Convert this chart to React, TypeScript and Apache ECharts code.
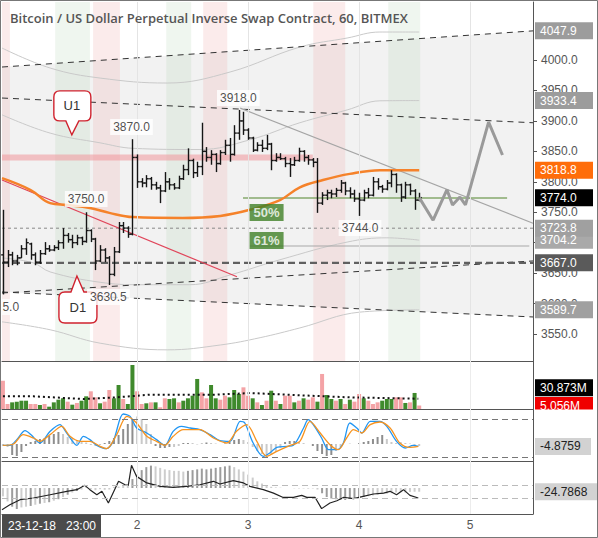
import React, { useEffect, useRef } from 'react';
import * as echarts from 'echarts';

const TITLE = 'Bitcoin / US Dollar Perpetual Inverse Swap Contract, 60, BITMEX';
const FIRST_HOUR = -5; // hour of first bar, counted from start of day "1"
const X_MIN = -5.2;
const X_MAX = 109.6;
const DAY_TICKS = [24, 48, 72, 96];
const PRICE_TICKS = [3550, 3600, 3650, 3700, 3750, 3800, 3850, 3900, 3950, 4000];

const opens = [
  3680, 3668, 3680, 3670, 3675, 3690, 3698, 3680, 3668, 3682,
  3690, 3688, 3692, 3700, 3712, 3705, 3700, 3708, 3702, 3720,
  3706, 3670, 3688, 3675, 3648, 3685, 3728, 3724, 3714, 3840,
  3800, 3798, 3805, 3795, 3790, 3785, 3800, 3795, 3790, 3805,
  3820, 3835, 3815, 3825, 3850, 3840, 3845, 3830, 3848, 3860,
  3845, 3880, 3900, 3885, 3872, 3852, 3860, 3855, 3862, 3835,
  3840, 3838, 3830, 3828, 3835, 3850, 3840, 3836, 3832, 3765,
  3778, 3782, 3780, 3786, 3798, 3785, 3780, 3772, 3770, 3782,
  3778, 3800, 3792, 3788, 3798, 3812, 3795, 3775, 3795, 3785,
  3770,
];
const highs = [
  3754, 3688, 3685, 3680, 3696, 3707, 3700, 3684, 3688, 3701,
  3696, 3696, 3704, 3724, 3716, 3713, 3713, 3710, 3750, 3722,
  3708, 3696, 3691, 3678, 3693, 3734, 3734, 3727, 3870, 3845,
  3806, 3811, 3808, 3800, 3795, 3816, 3806, 3798, 3810, 3828,
  3855, 3838, 3833, 3897, 3857, 3852, 3847, 3852, 3869, 3872,
  3893, 3918, 3915, 3888, 3874, 3865, 3869, 3877, 3864, 3847,
  3847, 3841, 3839, 3841, 3856, 3852, 3844, 3839, 3839, 3783,
  3787, 3787, 3790, 3803, 3800, 3791, 3787, 3782, 3787, 3790,
  3808, 3806, 3795, 3803, 3819, 3814, 3797, 3800, 3797, 3788,
  3782,
];
const lows = [
  3615, 3660, 3663, 3663, 3675, 3680, 3672, 3663, 3665, 3680,
  3685, 3686, 3688, 3690, 3700, 3691, 3696, 3696, 3700, 3701,
  3655, 3668, 3668, 3630.5, 3645, 3683, 3716, 3708, 3712, 3790,
  3791, 3791, 3787, 3787, 3765, 3783, 3787, 3787, 3788, 3803,
  3811, 3806, 3808, 3811, 3833, 3828, 3816, 3828, 3844, 3833,
  3843, 3869, 3877, 3869, 3849, 3850, 3849, 3852, 3819, 3833,
  3836, 3824, 3808, 3826, 3833, 3833, 3828, 3824, 3749, 3762,
  3770, 3773, 3775, 3782, 3778, 3773, 3767, 3744, 3768, 3773,
  3776, 3787, 3782, 3786, 3791, 3782, 3767, 3772, 3778, 3754,
  3768,
];
const closes = [
  3668, 3680, 3670, 3675, 3690, 3700, 3680, 3668, 3682, 3690,
  3688, 3692, 3700, 3712, 3705, 3700, 3708, 3702, 3720, 3706,
  3670, 3688, 3675, 3648, 3685, 3728, 3724, 3714, 3840, 3800,
  3798, 3805, 3795, 3790, 3785, 3800, 3795, 3790, 3805, 3820,
  3835, 3815, 3825, 3850, 3840, 3845, 3830, 3848, 3860, 3845,
  3880, 3900, 3885, 3872, 3852, 3860, 3855, 3862, 3835, 3840,
  3838, 3830, 3828, 3835, 3850, 3840, 3836, 3832, 3765, 3778,
  3782, 3780, 3786, 3798, 3785, 3780, 3772, 3770, 3782, 3778,
  3800, 3792, 3788, 3798, 3812, 3795, 3775, 3795, 3785, 3770,
  3774,
];

// volume in millions, 1 = green (up) bar, 0 = pink (down) bar
const volumes = [
  41.3, 7.3, 9.7, 10.7, 12.1, 12.1, 7.3, 7.3, 5.8, 7.3,
  3.4, 9.7, 13.6, 15.6, 10.7, 6.3, 8.8, 12.1, 18.5, 25.8,
  17.0, 8.3, 10.7, 27.7, 15.6, 35.0, 14.6, 7.3, 64.2, 25.8,
  7.3, 8.3, 9.7, 9.7, 2.5, 15.6, 14.6, 15.6, 9.7, 12.1,
  15.6, 19.4, 43.8, 24.3, 15.6, 35.0, 15.6, 13.6, 19.4, 17.0,
  27.7, 21.9, 31.6, 19.4, 15.6, 9.7, 5.8, 12.1, 26.7, 12.1,
  7.3, 19.4, 19.4, 9.7, 12.1, 15.6, 13.6, 17.0, 10.7, 51.1,
  20.4, 14.6, 12.1, 14.6, 7.3, 13.6, 10.7, 21.9, 15.6, 12.1,
  7.3, 9.7, 12.1, 14.6, 14.6, 17.0, 17.0, 8.8, 9.7, 23.4,
  5.056,
];
const volumeUp = [
  0, 0, 1, 1, 1, 1, 0, 0, 1, 0,
  1, 1, 1, 1, 0, 1, 0, 1, 1, 0,
  0, 1, 0, 0, 1, 1, 0, 1, 1, 0,
  0, 1, 0, 1, 0, 0, 1, 1, 0, 1,
  1, 1, 1, 0, 0, 1, 1, 0, 0, 1,
  1, 1, 0, 0, 1, 0, 1, 0, 1, 0,
  1, 0, 0, 1, 0, 1, 0, 0, 1, 0,
  1, 1, 0, 1, 0, 1, 0, 0, 1, 0,
  0, 0, 1, 1, 1, 0, 0, 1, 0, 1,
  0,
];
const volumeMa = [[-5, 18.5], [1.6, 18.5], [12.4, 14.6], [19.6, 17], [26.8, 20.9], [41.2, 20.9], [48.4, 23.3], [59.2, 20], [70, 17], [84.8, 15]];

// oscillator pane
const oscHist = [
  -4, -6, -22, -24, -16, -4, 4, 6, 10, 12,
  16, 20, 24, 20, 14, 12, 8, 6, 3, -2,
  -4, -2, 2, 6, 12, 18, 30, 40, 50, 55,
  50, 40, 20, -4, -8, -8, -6, -6, -4, 2,
  2, 2, -1, 1, 3, 2, 1, 0, 1, 4,
  8, 10, 8, 4, -6, -14, -20, -24, -22, -16,
  -8, 4, 6, 6, 4, 2, 0, -4, -14, -20,
  -24, -22, -14, -6, 0, 1, 0, 2, 4, 6,
  10, 14, 18, 10, 4, 2, 4, 2, 1, -2,
  -4,
];
const oscHistDark = [
  0, 0, 1, 1, 1, 1, 1, 1, 1, 1,
  1, 1, 1, 0, 0, 0, 0, 0, 0, 0,
  0, 0, 1, 1, 1, 1, 1, 1, 1, 0,
  0, 0, 0, 1, 1, 1, 1, 0, 0, 1,
  1, 0, 0, 1, 1, 0, 0, 0, 1, 1,
  1, 1, 0, 0, 0, 0, 0, 0, 0, 0,
  0, 1, 1, 1, 0, 0, 0, 1, 1, 1,
  1, 1, 0, 0, 0, 0, 0, 1, 1, 1,
  1, 1, 1, 0, 0, 0, 0, 0, 0, 0,
  0,
];
const oscFast = [[-5, -2.7], [-3.5, -2.7], [-2, 8.7], [-0.2, 26.7], [1.2, 17.3], [3, 2], [5.2, 25.3], [7.3, 38.7], [8.8, 22], [11, -2.7], [12.4, 15.3], [13.8, 8.7], [15.3, -2.7], [17.4, -9.3], [18.9, 6.7], [21, 60], [22.5, 55.3], [23.9, 32], [26.1, 22], [28.2, 8.7], [30, -2.7], [31.8, 25.3], [33.6, 35.3], [35.5, 32], [37.6, 28.7], [39.8, 18.7], [41.9, 6.7], [44.1, 5.3], [46.3, 45.3], [47.3, 42], [49.1, 2], [51.3, -24.7], [52.7, -18], [54.2, -6.7], [56.4, -4.7], [57.8, -2.7], [60, 32], [61, 48.7], [62.1, 38.7], [63.9, 12], [65.4, -11.3], [67.2, -11.3], [68.6, 2], [70, 42], [71.5, 32], [72.6, 22], [74.4, 45.3], [76.5, 45.3], [78, 35.3], [80.1, 5.3], [82, -8], [83.7, -2.7], [84.8, -4.9]];
const oscSlow = [[-5, -2.7], [-2.7, 0], [-0.6, 18.7], [1.6, 12], [3, 5.3], [5.2, 18.7], [7.7, 35.3], [9.5, 15.3], [11.7, 5.3], [13.8, 5.3], [16, -4.7], [17.4, -9.3], [19.6, 18.7], [21.8, 55.3], [23.9, 42], [26.1, 15.3], [28.2, 5.3], [30, -2.7], [31.8, 15.3], [34, 28.7], [37.6, 28.7], [40.5, 12], [43.4, 2], [45.5, 25.3], [47.7, 38.7], [49.9, 5.3], [52, -24.7], [54.2, -14.7], [57.1, -2.7], [59.2, 5.3], [61.4, 45.3], [63.6, 22], [65.7, -1.3], [67.5, -11.3], [69.3, 12], [70.8, 28.7], [72.6, 22], [74.4, 38.7], [76.5, 44], [78.7, 32], [80.8, 2], [83, -6.7], [84.8, -4.9]];

// MACD pane
const macdHist = [
  -56, -90, -125, -140, -130, -125, -120, -112, -105, -100,
  -95, -85, -75, -60, -45, -30, -20, -10, 5, -10,
  -15, -8, -12, -10, 8, 10, 15, 20, 60, 90,
  120, 140, 150, 145, 135, 125, 120, 115, 115, 110,
  115, 120, 125, 130, 125, 130, 135, 140, 145, 150,
  140, 125, 110, 90, 70, 45, 30, 15, 8, 4,
  2, 0, 0, -2, -3, -3, -4, -3, -10, -35,
  -60, -70, -75, -78, -80, -72, -70, -68, -60, -55,
  -50, -45, -40, -38, -35, -30, -28, -30, -26, -25,
  -24.8,
];
const macdHistDark = [
  0, 0, 1, 1, 0, 0, 1, 0, 1, 0,
  1, 0, 1, 0, 1, 0, 1, 0, 0, 0,
  0, 0, 0, 0, 0, 0, 0, 0, 1, 1,
  1, 1, 1, 0, 0, 0, 0, 0, 0, 0,
  1, 1, 1, 1, 1, 1, 1, 1, 1, 1,
  0, 0, 0, 0, 0, 0, 0, 0, 0, 0,
  0, 0, 0, 0, 0, 0, 0, 0, 0, 1,
  1, 1, 1, 1, 1, 1, 1, 1, 1, 0,
  0, 0, 0, 0, 0, 0, 0, 0, 0, 0,
  0,
];
const macdLine = [[-5.2, -145], [-3.5, -112], [-1.3, -78], [1.6, -67], [5.2, -45], [8.8, -22], [11, -11], [12.7, 18], [13.8, -11], [15.3, -45], [16.4, -22], [17.8, -100], [20, 45], [21.4, 22], [22.1, 18], [22.8, 152], [23.9, 78], [26.1, 34], [29, 11], [31.8, 4], [34.7, 11], [37.6, 22], [40.5, 45], [41.9, 27], [44.8, 49], [47, 34], [48.4, 11], [51.3, -11], [53.5, -34], [55.6, -63], [57.8, -63], [59.6, -49], [60.7, -63], [62.5, -63], [63.9, -138], [65.7, -100], [67.2, -85], [68.6, -63], [70.8, -71], [72.9, -56], [75.1, -40], [77.3, -34], [78.7, -22], [80.1, -45], [81.6, -11], [83, -49], [84.8, -67]];

// indicator lines on the price pane
const emaLine = [[-5.2, 3806], [1, 3786.5], [5.2, 3765], [8.9, 3762], [13.8, 3757], [18, 3749], [23.1, 3742], [33.9, 3740.5], [42, 3744], [48.4, 3754], [54.9, 3770], [59.2, 3791], [64.2, 3803], [70, 3813], [76.5, 3819], [85, 3818.8]];
const bandOuterUpper = [[-5.2, 4019.7], [5.2, 3986.9], [16, 3970.4], [30.5, 3962.2], [44.1, 3980.3], [59.2, 4021.3], [69.4, 4036.1], [76.5, 4046], [85, 4046]];
const bandInnerUpper = [[-5.2, 3910], [5.2, 3880], [16, 3864], [23.1, 3855], [37.6, 3853], [48.4, 3869], [59.2, 3897], [69.4, 3918], [76.5, 3933], [85, 3933.4]];
const bandInnerLower = [[-5.2, 3675], [1.5, 3667], [5.2, 3652], [16, 3635], [24.6, 3631], [35.4, 3631], [44.1, 3647], [54.9, 3672], [69.4, 3701], [78, 3708], [85, 3704.2]];
const bandOuterLower = [[-5.2, 3570], [5.2, 3557], [16, 3535], [30.5, 3524], [42, 3532], [50.6, 3544], [59.2, 3560], [72.2, 3586], [85, 3589.7]];

// drawings
const channelTop = [[-5.2, 3988.5], [109.6, 4047.9]];
const channelUpperMid = [[-5.2, 3937.6], [109.6, 3897]];
const channelLowerMid = [[-5.2, 3617.4], [109.6, 3670]];
const channelBottom = [[-5.2, 3619], [109.6, 3578]];
const level3723 = [[-5.2, 3723.8], [109.6, 3723.8]];
const level3667 = [[-5.2, 3667], [109.6, 3667]];
const redTrend = [[-5.2, 3803], [45.6, 3644]];
const grayTrend = [[46.3, 3921], [109.6, 3732]];
const resistanceZone = [[-5.2, 3840], [62, 3840]];
const fib50 = [[46.9, 3773.4], [104, 3773.4]];
const fib61 = [[48.4, 3694.6], [108.8, 3694.6]];
const projection = [[85, 3774], [88, 3737], [91, 3787], [92.2, 3762], [93.8, 3775], [95, 3762], [100, 3898], [103, 3844]];
const sessions = [[-5.2, -3.5, 0], [14.5, 20.3, 0], [38.3, 43.5, 0], [62.1, 69, 0], [6.3, 13.8, 1], [30.3, 35.7, 1], [78.3, 85.2, 1]];

const priceNotes = [
  { name: '3918.0', value: [45.9, 3937.6] },
  { name: '3870.0', value: [22.8, 3890] },
  { name: '3750.0', value: [13.0, 3771.7] },
  { name: '3630.5', value: [17.8, 3610.8] },
  { name: '5.0', value: [-3.3, 3594.4] },
  { name: '3744.0', value: [72.2, 3724] },
];
const fibNotes = [
  { name: '50%', value: [52.0, 3749.6] },
  { name: '61%', value: [52.0, 3703.6] },
];

const priceTags: [number, string, string, string][] = [
  [4047.9, '4047.9', '#9c9c9c', '#fff'],
  [3933.4, '3933.4', '#9c9c9c', '#fff'],
  [3818.8, '3818.8', '#ff6d0a', '#fff'],
  [3774.0, '3774.0', '#000', '#fff'],
  [3704.2, '3704.2', '#a9a9a9', '#fff'],
  [3723.8, '3723.8', '#a0a0a0', '#fff'],
  [3667.0, '3667.0', '#5a5a5a', '#fff'],
  [3589.7, '3589.7', '#a0a0a0', '#fff'],
];

const BALLOON_DOWN = 'M6 0H31Q37 0 37 6V24Q37 30 31 30H25L18 44L12 30H6Q0 30 0 24V6Q0 0 6 0Z';
const BALLOON_UP = 'M6 16H12L18 0L25 16H32Q38 16 38 22V41Q38 47 32 47H6Q0 47 0 41V22Q0 16 6 16Z';
echarts.graphic.registerShape('balloonDown', echarts.graphic.extendPath(BALLOON_DOWN, {}));
echarts.graphic.registerShape('balloonUp', echarts.graphic.extendPath(BALLOON_UP, {}));

const FONT = '"Liberation Sans", Arial, sans-serif';
const GRIDS = [
  { left: 2, right: 65, top: 2, height: 359 },
  { left: 2, right: 65, top: 361, height: 48 },
  { left: 2, right: 65, top: 409, height: 52 },
  { left: 2, right: 65, top: 461, height: 53 },
];
const Y_RANGES = [[3505.7, 4095.3], [0, 70], [-34, 70], [-174, 181]];

const dayLines = (color: string) => ({
  silent: true,
  symbol: ['none', 'none'],
  label: { show: false },
  lineStyle: { color, width: 1, type: 'solid' },
  data: DAY_TICKS.map((v) => ({ xAxis: v })),
});

const seg = (data: number[][], color: string, width: number, type: any = 'solid', extra: any = {}) => ({
  type: 'line',
  xAxisIndex: 0,
  yAxisIndex: 0,
  data,
  symbol: 'none',
  silent: true,
  lineStyle: { color, width, type },
  z: 3,
  ...extra,
});

function buildOption(): any {
  const ohlc = opens.map((o, i) => [FIRST_HOUR + i, o, highs[i], lows[i], closes[i]]);
  const hour = (i: number) => FIRST_HOUR + i;
  return {
    animation: false,
    backgroundColor: '#fff',
    grid: GRIDS,
    xAxis: GRIDS.map((_, i) => ({
      type: 'value',
      gridIndex: i,
      min: X_MIN,
      max: X_MAX,
      axisLine: { show: true, onZero: false, lineStyle: { color: '#555', width: 1 } },
      axisTick: { show: false },
      splitLine: { show: false },
      axisLabel: i === 3
        ? { show: true, customValues: DAY_TICKS, formatter: (v: number) => String(v / 24 + 1), color: '#555', fontSize: 12, fontFamily: FONT, margin: 5 }
        : { show: false },
    })),
    yAxis: GRIDS.map((_, i) => ({
      type: 'value',
      gridIndex: i,
      position: 'right',
      min: Y_RANGES[i][0],
      max: Y_RANGES[i][1],
      axisLine: { show: true, onZero: false, lineStyle: { color: '#555', width: 1 } },
      splitLine: { show: false },
      axisTick: i === 0 ? { show: true, length: 4, customValues: PRICE_TICKS, lineStyle: { color: '#555' } } : { show: false },
      axisLabel: i === 0
        ? { show: true, customValues: PRICE_TICKS, formatter: (v: number) => v.toFixed(1), color: '#555', fontSize: 12, fontFamily: FONT, margin: 8 }
        : { show: false },
    })),
    series: [
      // channel fill
      {
        type: 'custom',
        xAxisIndex: 0,
        yAxisIndex: 0,
        silent: true,
        z: 1,
        data: [[0, 3800]],
        renderItem: (_p: any, api: any) => {
          const pts = [...channelTop, ...channelBottom.slice().reverse()].map((d) => api.coord(d));
          return { type: 'polygon', shape: { points: pts }, style: { fill: '#f2f2f2' } };
        },
      },
      // session bands
      {
        type: 'custom',
        xAxisIndex: 0,
        yAxisIndex: 0,
        silent: true,
        z: 1,
        data: sessions.map((s) => [s[0], s[1], s[2], 3800]),
        encode: { x: [0, 1], y: 3 },
        renderItem: (params: any, api: any) => {
          const a = api.coord([api.value(0), 3800]);
          const b = api.coord([api.value(1), 3800]);
          const cs = params.coordSys;
          return {
            type: 'rect',
            shape: { x: a[0], y: cs.y, width: b[0] - a[0], height: cs.height },
            style: { fill: api.value(2) ? 'rgba(175,212,175,0.2)' : 'rgba(238,165,165,0.22)' },
          };
        },
      },
      seg(bandOuterUpper, '#c9c9c9', 1, 'solid', { smooth: 0.4 }),
      seg(bandInnerUpper, '#c9c9c9', 1, 'solid', { smooth: 0.4 }),
      seg(bandInnerLower, '#c9c9c9', 1, 'solid', { smooth: 0.4 }),
      seg(bandOuterLower, '#c9c9c9', 1, 'solid', { smooth: 0.4 }),
      seg(resistanceZone, 'rgba(240,150,155,0.55)', 6, 'solid', { markLine: dayLines('#e4e4e4') }),
      seg(channelTop, '#333', 1, [6, 5]),
      seg(channelUpperMid, '#333', 1, [6, 5]),
      seg(channelLowerMid, '#333', 1, [6, 5]),
      seg(channelBottom, '#333', 1, [6, 5]),
      seg(level3723, '#888', 1, [3, 3]),
      seg(level3667, '#606060', 2.2, [7, 4]),
      seg(redTrend, '#e0455a', 1.2),
      seg(grayTrend, '#a5a5a5', 1.2),
      seg(fib50, '#86a86c', 1.5),
      seg(fib61, '#a8a8a8', 1.2),
      seg(emaLine, '#f5822a', 2.5, 'solid', { smooth: 0.4, z: 4 }),
      // OHLC bars
      {
        type: 'custom',
        xAxisIndex: 0,
        yAxisIndex: 0,
        silent: true,
        z: 5,
        data: ohlc,
        encode: { x: 0, y: [1, 2, 3, 4] },
        renderItem: (_p: any, api: any) => {
          const t = api.value(0);
          const o = api.coord([t, api.value(1)]);
          const h = api.coord([t, api.value(2)]);
          const l = api.coord([t, api.value(3)]);
          const c = api.coord([t, api.value(4)]);
          const x = Math.round(h[0]) + 0.5;
          const st = { stroke: '#151515', lineWidth: 1.4 };
          return {
            type: 'group',
            children: [
              { type: 'line', shape: { x1: x, y1: h[1], x2: x, y2: l[1] }, style: st },
              { type: 'line', shape: { x1: x - 2.3, y1: o[1], x2: x, y2: o[1] }, style: st },
              { type: 'line', shape: { x1: x, y1: c[1], x2: x + 2.3, y2: c[1] }, style: st },
            ],
          };
        },
      },
      seg(projection, '#9a9a9a', 3, 'solid', { z: 6 }),
      {
        type: 'scatter',
        xAxisIndex: 0,
        yAxisIndex: 0,
        silent: true,
        z: 10,
        symbolSize: 2,
        itemStyle: { color: 'rgba(0,0,0,0)' },
        data: priceNotes,
        label: {
          show: true, position: 'inside', formatter: '{b}', color: '#222', fontSize: 12, fontFamily: FONT,
          backgroundColor: '#fff', padding: [2, 3],
        },
      },
      {
        type: 'scatter',
        xAxisIndex: 0,
        yAxisIndex: 0,
        silent: true,
        z: 10,
        symbolSize: 2,
        itemStyle: { color: 'rgba(0,0,0,0)' },
        data: fibNotes,
        label: {
          show: true, position: 'inside', formatter: '{b}', color: '#fff', fontSize: 13, fontWeight: 'bold', fontFamily: FONT,
          backgroundColor: '#3f7f25', padding: [2, 4],
        },
      },
      // volume pane
      {
        type: 'bar',
        xAxisIndex: 1,
        yAxisIndex: 1,
        silent: true,
        barWidth: 4,
        data: volumes.map((v, i) => ({ value: [hour(i), v], itemStyle: { color: volumeUp[i] ? '#3f8a2c' : '#f4a3a6' } })),
        markLine: dayLines('#ececec'),
      },
      {
        type: 'line', xAxisIndex: 1, yAxisIndex: 1, silent: true, symbol: 'none', data: volumeMa,
        lineStyle: { color: '#111', width: 2, type: [2, 3] }, z: 4,
      },
      // oscillator pane
      {
        type: 'bar',
        xAxisIndex: 2,
        yAxisIndex: 2,
        silent: true,
        barWidth: 2,
        data: oscHist.map((v, i) => ({ value: [hour(i), v], itemStyle: { color: oscHistDark[i] ? '#8e8e8e' : '#c9c9c9' } })),
        markLine: {
          silent: true, symbol: ['none', 'none'], label: { show: false },
          data: [
            ...DAY_TICKS.map((v) => ({ xAxis: v, lineStyle: { color: '#ececec', width: 1, type: 'solid' } })),
            { yAxis: 50, lineStyle: { color: '#777', width: 1, type: [6, 4] } },
            { yAxis: -26, lineStyle: { color: '#777', width: 1, type: [6, 4] } },
          ],
        },
      },
      { type: 'line', xAxisIndex: 2, yAxisIndex: 2, silent: true, symbol: 'none', smooth: 0.3, data: oscFast, lineStyle: { color: '#2196f3', width: 1.3 }, z: 4 },
      { type: 'line', xAxisIndex: 2, yAxisIndex: 2, silent: true, symbol: 'none', smooth: 0.3, data: oscSlow, lineStyle: { color: '#f7931e', width: 1.3 }, z: 4 },
      // MACD pane
      {
        type: 'bar',
        xAxisIndex: 3,
        yAxisIndex: 3,
        silent: true,
        barWidth: 2,
        data: macdHist.map((v, i) => ({ value: [hour(i), v], itemStyle: { color: macdHistDark[i] ? '#9c9c9c' : '#cdcdcd' } })),
        markLine: {
          silent: true, symbol: ['none', 'none'], label: { show: false },
          data: [
            ...DAY_TICKS.map((v) => ({ xAxis: v, lineStyle: { color: '#ececec', width: 1, type: 'solid' } })),
            { yAxis: 18, lineStyle: { color: '#bbb', width: 1, type: [6, 4] } },
            { yAxis: -67, lineStyle: { color: '#bbb', width: 1, type: [6, 4] } },
          ],
        },
      },
      { type: 'line', xAxisIndex: 3, yAxisIndex: 3, silent: true, symbol: 'none', data: macdLine, lineStyle: { color: '#222', width: 1.2 }, z: 4 },
    ],
  };
}

function buildGraphics(chart: any): any[] {
  const tag = (axis: number, value: number, text: string, bg: string, fg: string, width = 58) => {
    const y = chart.convertToPixel({ yAxisIndex: axis }, value) as number;
    return {
      type: 'group',
      z: 100,
      children: [
        { type: 'rect', z: 100, shape: { x: 535, y: y - 8.5, width, height: 17 }, style: { fill: bg } },
        {
          type: 'text', z: 101, x: 540, y,
          style: { text, fill: fg, font: `12px ${FONT}`, align: 'left', textAlign: 'left', verticalAlign: 'middle', textVerticalAlign: 'middle' },
        },
      ],
    };
  };
  const els: any[] = [];
  els.push({ type: 'rect', z: 120, shape: { x: 0.5, y: 0.5, width: 597, height: 537 }, style: { fill: 'none', stroke: '#777', lineWidth: 1 } });
  els.push({
    type: 'text', z: 110, x: 10, y: 18,
    style: { text: TITLE, fill: '#555', font: `600 13px "Open Sans", sans-serif`, verticalAlign: 'middle', textVerticalAlign: 'middle' },
  });
  priceTags.forEach(([v, t, bg, fg]) => els.push(tag(0, v, t, bg, fg)));
  els.push(tag(1, 30.873, '30.873M', '#000', '#fff'));
  els.push(tag(1, 5.056, '5.056M', '#f00000', '#fff'));
  els.push({ type: 'rect', z: 105, shape: { x: 534, y: 409.5, width: 63, height: 9 }, style: { fill: '#fff' } });
  els.push(tag(2, -4.8759, '-4.8759', '#d2d2d2', '#222', 56));
  els.push(tag(3, -24.7868, '-24.7868', '#d2d2d2', '#222', 62));
  const u = chart.convertToPixel({ gridIndex: 0 }, [9.9, 3877]);
  els.push({ type: 'balloonDown', z: 8, x: u[0] - 18, y: u[1] - 44, style: { fill: '#fff', stroke: '#d0222e', lineWidth: 1.4 } });
  els.push({ type: 'text', z: 9, x: u[0], y: u[1] - 29, style: { text: 'U1', fill: '#333', font: `13px ${FONT}`, align: 'center', textAlign: 'center', verticalAlign: 'middle', textVerticalAlign: 'middle' } });
  const d = chart.convertToPixel({ gridIndex: 0 }, [11.0, 3645.3]);
  els.push({ type: 'balloonUp', z: 8, x: d[0] - 18, y: d[1], style: { fill: '#fff', stroke: '#d0222e', lineWidth: 1.4 } });
  els.push({ type: 'text', z: 9, x: d[0] + 1, y: d[1] + 32, style: { text: 'D1', fill: '#333', font: `13px ${FONT}`, align: 'center', textAlign: 'center', verticalAlign: 'middle', textVerticalAlign: 'middle' } });
  els.push({ type: 'rect', z: 110, shape: { x: 2, y: 515, width: 99, height: 22 }, style: { fill: '#4b4b4b' } });
  els.push({ type: 'text', z: 111, x: 8, y: 526, style: { text: '23-12-18', fill: '#fff', font: `12px ${FONT}`, verticalAlign: 'middle', textVerticalAlign: 'middle' } });
  els.push({ type: 'text', z: 111, x: 66, y: 526, style: { text: '23:00', fill: '#fff', font: `12px ${FONT}`, verticalAlign: 'middle', textVerticalAlign: 'middle' } });
  return els;
}

export default function App() {
  const ref = useRef<HTMLDivElement>(null);
  useEffect(() => {
    const chart = echarts.init(ref.current!, null, { renderer: 'svg' });
    chart.setOption(buildOption());
    chart.setOption({ graphic: buildGraphics(chart) });
    return () => chart.dispose();
  }, []);
  return <div ref={ref} style={{ position: 'fixed', left: 0, top: 0, width: 598, height: 538, background: '#fff' }} />;
}
